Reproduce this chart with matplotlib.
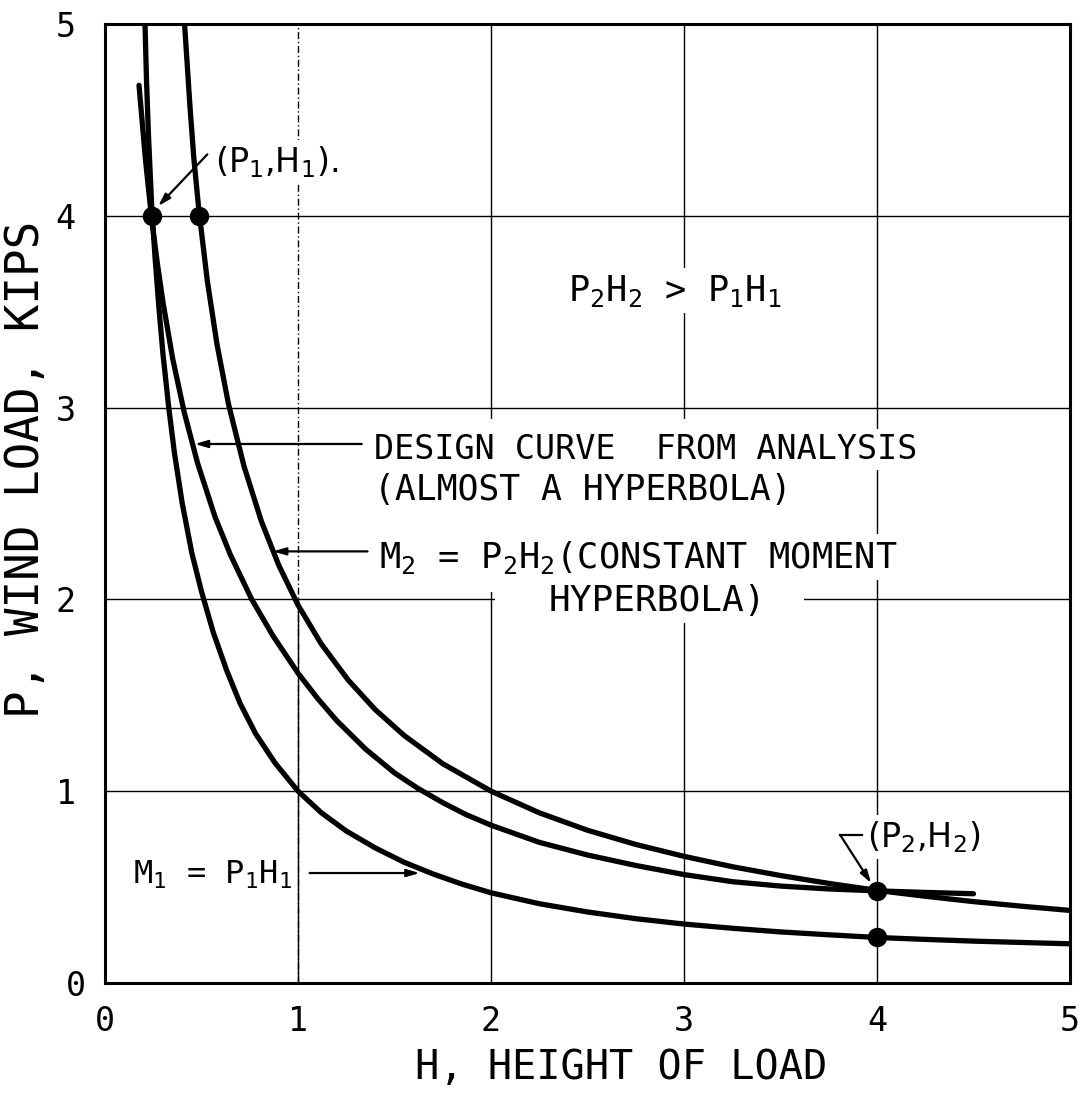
import matplotlib
matplotlib.use("Agg")
import matplotlib.pyplot as plt
import matplotlib.transforms as mtransforms
from matplotlib.patches import Rectangle

# ---------------- data ----------------
# M1 = P1*H1 constant-moment hyperbola
m1_h = [0.207, 0.215, 0.225, 0.243, 0.26, 0.28, 0.30, 0.33, 0.36, 0.40, 0.45,
        0.50, 0.56, 0.63, 0.70, 0.78, 0.88, 1.0, 1.12, 1.25, 1.4, 1.55, 1.7,
        1.85, 2.0, 2.25, 2.5, 2.75, 3.0, 3.25, 3.5, 3.75, 4.0, 4.25, 4.5,
        4.75, 5.0]
m1_p = [5.0, 4.70, 4.42, 4.02, 3.77, 3.51, 3.28, 3.0, 2.76, 2.5, 2.24,
        2.04, 1.83, 1.63, 1.457, 1.30, 1.148, 1.0, 0.888, 0.792, 0.704, 0.629,
        0.568, 0.515, 0.47, 0.413, 0.37, 0.335, 0.307, 0.285, 0.266, 0.251,
        0.237, 0.227, 0.218, 0.211, 0.204]

# Design curve from analysis (almost a hyperbola)
dc_h = [0.176, 0.21, 0.243, 0.27, 0.30, 0.35, 0.41, 0.48, 0.57, 0.65, 0.76,
        0.87, 1.0, 1.1, 1.2, 1.35, 1.5, 1.62, 1.75, 1.87, 2.0, 2.25, 2.5,
        2.75, 3.0, 3.25, 3.5, 3.75, 4.0, 4.25, 4.5]
dc_p = [4.68, 4.286, 3.971, 3.759, 3.55, 3.257, 2.976, 2.708, 2.43, 2.231,
        2.0, 1.81, 1.615, 1.485, 1.368, 1.219, 1.095, 1.015, 0.94, 0.878,
        0.8225, 0.733, 0.667, 0.6125, 0.565, 0.528, 0.505, 0.49, 0.48, 0.472,
        0.465]

# M2 = P2*H2 constant-moment hyperbola
m2_h = [0.412, 0.44, 0.46, 0.486, 0.53, 0.58, 0.64, 0.72, 0.81, 0.9, 1.0,
        1.12, 1.26, 1.4, 1.55, 1.75, 2.0, 2.25, 2.5, 2.75, 3.0, 3.25, 3.5,
        3.75, 4.0, 4.25, 4.5, 4.75, 5.0]
m2_p = [5.0, 4.57, 4.30, 4.03, 3.66, 3.33, 3.016, 2.694, 2.407, 2.178, 1.97,
        1.768, 1.579, 1.425, 1.29, 1.143, 1.0, 0.887, 0.796, 0.722, 0.66,
        0.606, 0.56, 0.519, 0.4825, 0.452, 0.424, 0.40, 0.378]

# marked points (P1,H1), (P2,H2) and companions
dot_h = [0.243, 0.486, 4.0, 4.0]
dot_p = [4.0, 4.0, 0.48, 0.237]

x_ticks = [0, 1, 2, 3, 4, 5]
y_ticks = [0, 1, 2, 3, 4, 5]
x_ticklabels = ["0", "1", "2", "3", "4", "5"]
y_ticklabels = ["0", "1", "2", "3", "4", "5"]

# ---------------- style ----------------
MONO = "DejaVu Sans Mono"
SANS = "DejaVu Sans"
plt.rcParams["font.family"] = [MONO, SANS]
plt.rcParams["mathtext.fontset"] = "custom"
plt.rcParams["mathtext.rm"] = MONO
plt.rcParams["mathtext.it"] = MONO
plt.rcParams["mathtext.default"] = "regular"

fig = plt.figure(figsize=(10.83, 10.93), dpi=100)
ax = fig.add_axes([0.097, 0.1007, 0.891, 0.8774])
ax.set_xlim(0, 5)
ax.set_ylim(0, 5)
ax.set_xticks(x_ticks)
ax.set_xticklabels(x_ticklabels)
ax.set_yticks(y_ticks)
ax.set_yticklabels(y_ticklabels)
ax.grid(True, color="black", lw=1.0)
ax.set_axisbelow(True)
ax.tick_params(length=0, labelsize=24)
ax.tick_params(axis="x", pad=16)
ax.tick_params(axis="y", pad=21)
for s in ax.spines.values():
    s.set_linewidth(2.2)
# the "0" of the P axis sits closer to the frame in the reference
lab0 = ax.get_yticklabels()[0]
lab0.set_transform(lab0.get_transform() +
                   mtransforms.ScaledTranslation(7 / 72, 0, fig.dpi_scale_trans))

# H = 1 grid line is broken (dash-dot) above P = 2 in the reference
ax.xaxis.get_gridlines()[1].set_linestyle((0, (5, 2, 1, 2)))
ax.axvline(x_ticks[1], ymin=0, ymax=0.4, color="black", lw=1.0, zorder=0.6)

ax.set_xlabel("H, HEIGHT OF LOAD", fontsize=29)
ax.set_ylabel("P, WIND LOAD, KIPS", fontsize=33)
ax.xaxis.set_label_coords(0.535, -0.068)
ax.yaxis.set_label_coords(-0.058, 0.535)

# curves
lw = 3.8
for hh, pp in ((m1_h, m1_p), (dc_h, dc_p), (m2_h, m2_p)):
    ax.plot(hh, pp, color="black", lw=lw, solid_capstyle="round",
            solid_joinstyle="round", zorder=3)
ax.plot(dot_h, dot_p, "o", ms=13, color="black", zorder=4)

# erase grid lines behind the central text block (as in the drawing)
ax.add_patch(Rectangle((1.97, 2.04), 1.11, 0.90, facecolor="white",
                       edgecolor="none", zorder=1))
ax.add_patch(Rectangle((2.02, 1.93), 1.60, 0.13, facecolor="white",
                       edgecolor="none", zorder=1))

box = dict(facecolor="white", edgecolor="none", pad=3)


def label(x, y, s, size, family=None):
    kw = dict(ha="left", va="center", fontsize=size, zorder=5, bbox=box)
    if family:
        kw["family"] = family
    ax.text(x, y, s, **kw)


label(0.57, 4.28, "(P$_1$,H$_1$).", 24, [SANS])
label(2.40, 3.61, "P$_2$H$_2$ > P$_1$H$_1$", 25.5)
label(1.395, 2.78, "DESIGN CURVE  FROM ANALYSIS", 24)
label(1.395, 2.57, "(ALMOST A HYPERBOLA)", 25)
label(1.42, 2.22, "M$_2$ = P$_2$H$_2$(CONSTANT MOMENT", 25.5)
label(2.30, 1.99, "HYPERBOLA)", 26)
label(0.145, 0.563, "M$_1$ = P$_1$H$_1$", 23)
label(3.95, 0.76, "(P$_2$,H$_2$)", 24, [SANS])

akw = dict(arrowstyle="-|>,head_length=0.75,head_width=0.22", lw=1.6,
           color="black", shrinkA=0, shrinkB=0)
ax.annotate("", xy=(0.275, 4.05), xytext=(0.53, 4.32), arrowprops=akw, zorder=6)
ax.annotate("", xy=(0.465, 2.81), xytext=(1.33, 2.81), arrowprops=akw, zorder=6)
ax.annotate("", xy=(0.87, 2.25), xytext=(1.36, 2.25), arrowprops=akw, zorder=6)
ax.annotate("", xy=(1.63, 0.573), xytext=(1.06, 0.573), arrowprops=akw, zorder=6)
ax.plot([3.92, 3.81], [0.77, 0.77], color="black", lw=1.6, zorder=6)
ax.annotate("", xy=(3.97, 0.52), xytext=(3.81, 0.77), arrowprops=akw, zorder=6)

fig.savefig("out.png", dpi=100)
